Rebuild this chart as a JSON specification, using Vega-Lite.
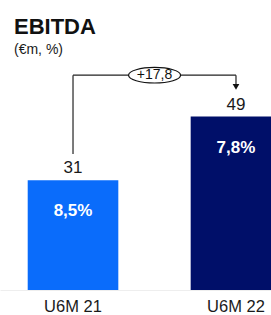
{
  "$schema": "https://vega.github.io/schema/vega-lite/v6.json",
  "autosize": {"type": "none"},
  "padding": {"top": 60, "left": 0, "right": 0, "bottom": 25},
  "width": 271,
  "height": 230,
  "background": "white",
  "config": {"view": {"stroke": null}, "font": "Liberation Sans"},
  "title": {
    "text": "EBITDA",
    "subtitle": "(€m, %)",
    "anchor": "start",
    "frame": "group",
    "dx": 14,
    "offset": 2,
    "font": "Liberation Sans",
    "fontSize": 22,
    "fontWeight": "bold",
    "color": "#111111",
    "subtitleFont": "Liberation Sans",
    "subtitleFontSize": 14,
    "subtitleColor": "#1a1a1a",
    "subtitlePadding": 4
  },
  "datasets": {
    "ebitda": [
      {"period": "U6M 21", "value": 31, "margin": "8,5%"},
      {"period": "U6M 22", "value": 49, "margin": "7,8%"}
    ],
    "connector": [
      {"from": "U6M 21", "to": "U6M 21", "y": 38.4, "y2": 60.7},
      {"from": "U6M 21", "to": "U6M 22", "y": 60.7, "y2": 60.7},
      {"from": "U6M 22", "to": "U6M 22", "y": 60.7, "y2": 58.2}
    ],
    "arrow": [{"period": "U6M 22", "y": 57.4}],
    "delta": [{"period": "U6M 21", "y": 60.7, "label": "+17,8"}]
  },
  "layer": [
    {
      "data": {"name": "ebitda"},
      "mark": {"type": "bar", "clip": true},
      "encoding": {
        "x": {
          "field": "period", "type": "nominal", "sort": null,
          "scale": {"range": [0, 309], "paddingInner": 0.444, "paddingOuter": 0.17},
          "axis": {"title": null, "labelAngle": 0, "labelFontSize": 16.5, "labelColor": "#1a1a1a", "labelPadding": 8, "ticks": false, "domain": true, "domainColor": "#eeeeee", "grid": false, "labelFont": "Liberation Sans"}
        },
        "y": {"field": "value", "type": "quantitative", "scale": {"domain": [0, 63]}, "axis": null},
        "color": {"field": "period", "type": "nominal", "scale": {"range": ["#0a6cfb", "#000f69"]}, "legend": null}
      }
    },
    {
      "data": {"name": "ebitda"},
      "mark": {"type": "text", "baseline": "alphabetic", "dy": -7, "fontSize": 17, "color": "#1a1a1a"},
      "encoding": {
        "x": {"field": "period", "type": "nominal"},
        "y": {"field": "value", "type": "quantitative"},
        "text": {"field": "value", "type": "quantitative"}
      }
    },
    {
      "data": {"name": "ebitda"},
      "mark": {"type": "text", "baseline": "middle", "dy": 31, "fontSize": 17, "fontWeight": "bold", "color": "white"},
      "encoding": {
        "x": {"field": "period", "type": "nominal"},
        "y": {"field": "value", "type": "quantitative"},
        "text": {"field": "margin", "type": "nominal"}
      }
    },
    {
      "data": {"name": "connector"},
      "mark": {"type": "rule", "color": "#222222", "strokeWidth": 1.2},
      "encoding": {
        "x": {"field": "from", "type": "nominal"},
        "x2": {"field": "to"},
        "y": {"field": "y", "type": "quantitative"},
        "y2": {"field": "y2"}
      }
    },
    {
      "data": {"name": "arrow"},
      "mark": {"type": "point", "shape": "triangle-down", "filled": true, "color": "#111111", "size": 45, "opacity": 1},
      "encoding": {
        "x": {"field": "period", "type": "nominal"},
        "y": {"field": "y", "type": "quantitative"}
      }
    },
    {
      "data": {"name": "delta"},
      "mark": {"type": "point", "shape": "M -1 0 A 1 0.3 0 1 0 1 0 A 1 0.3 0 1 0 -1 0 Z", "filled": false, "fill": "white", "fillOpacity": 1, "stroke": "#111111", "strokeWidth": 1.2, "size": 2704, "opacity": 1},
      "encoding": {
        "x": {"field": "period", "type": "nominal", "bandPosition": 1.4},
        "y": {"field": "y", "type": "quantitative"}
      }
    },
    {
      "data": {"name": "delta"},
      "mark": {"type": "text", "baseline": "middle", "fontSize": 14, "color": "#111111"},
      "encoding": {
        "x": {"field": "period", "type": "nominal", "bandPosition": 1.4},
        "y": {"field": "y", "type": "quantitative"},
        "text": {"field": "label", "type": "nominal"}
      }
    }
  ]
}
